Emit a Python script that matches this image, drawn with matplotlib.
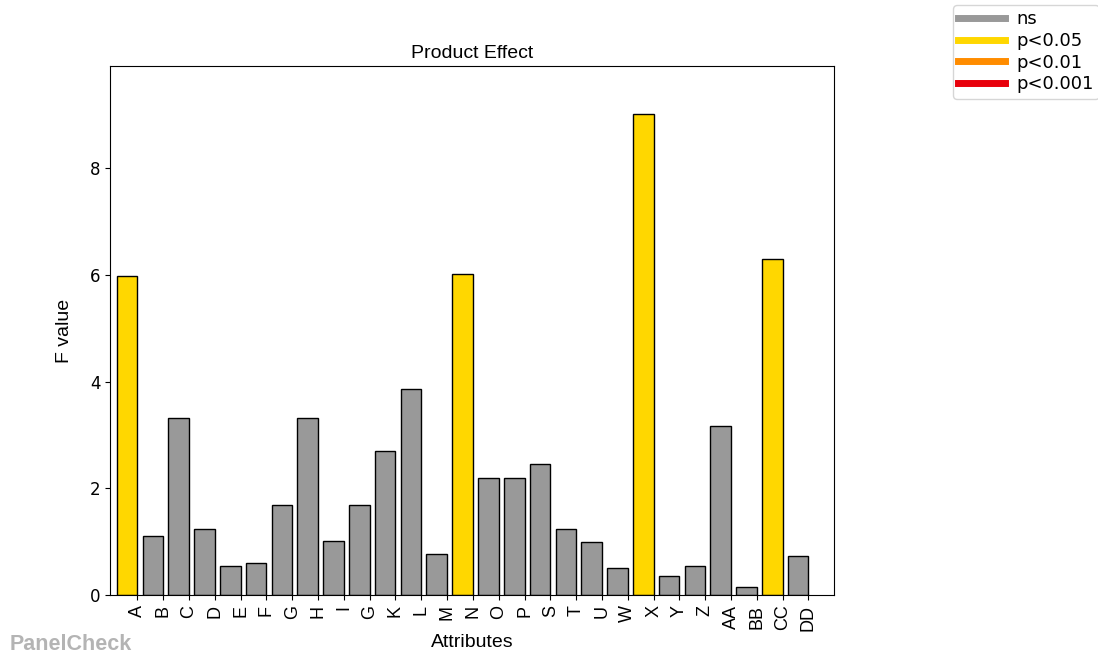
import numpy as np
import matplotlib
matplotlib.use("Agg")
import matplotlib.pyplot as plt
from matplotlib.lines import Line2D

# data
attributes = ["A", "B", "C", "D", "E", "F", "G", "H", "I", "G", "K", "L", "M", "N",
              "O", "P", "S", "T", "U", "W", "X", "Y", "Z", "AA", "BB", "CC", "DD"]
f_values = [5.97, 1.11, 3.32, 1.24, 0.54, 0.60, 1.69, 3.32, 1.02, 1.69, 2.70, 3.86,
            0.77, 6.01, 2.19, 2.19, 2.45, 1.24, 0.99, 0.51, 9.01, 0.36, 0.54, 3.17,
            0.15, 6.30, 0.73]
signif = ["p<0.05", "ns", "ns", "ns", "ns", "ns", "ns", "ns", "ns", "ns", "ns", "ns",
          "ns", "p<0.05", "ns", "ns", "ns", "ns", "ns", "ns", "p<0.05", "ns", "ns", "ns",
          "ns", "p<0.05", "ns"]
levels = ["ns", "p<0.05", "p<0.01", "p<0.001"]
level_colors = {"ns": "#999999", "p<0.05": "#FFD700", "p<0.01": "#FF8C00", "p<0.001": "#E8000B"}

narrow = ["Liberation Sans Narrow", "Liberation Sans", "DejaVu Sans"]
arial = ["Liberation Sans", "DejaVu Sans"]

fig = plt.figure(figsize=(10.98, 6.55), dpi=100)
ax = fig.add_axes([0.1002, 0.0916, 0.6594, 0.8076])

width = 0.8
ind = np.arange(len(attributes))
colors = [level_colors[s] for s in signif]
ax.bar(ind, f_values, width=width, align="edge", color=colors, edgecolor="black", linewidth=1)

ax.set_xticks(ind + width)
ax.set_xticklabels(attributes, rotation=90, family=narrow, fontsize=13)
ax.set_xlim(-0.26, len(attributes) - 1 + width + 0.99)
ax.set_ylim(0, max(f_values) * 1.1)
ax.set_yticks([0, 2, 4, 6, 8])
ax.tick_params(axis="y", labelsize=12)

ax.set_title("Product Effect", family=arial, fontsize=14)
ax.set_xlabel("Attributes", family=arial, fontsize=14, labelpad=2)
ax.set_ylabel("F value", family=narrow, fontsize=14, labelpad=12)

handles = [Line2D([0], [0], color=level_colors[l], linewidth=5) for l in levels]
fig.legend(handles, levels, loc="upper left", bbox_to_anchor=(953 / 1098, 1 - 5 / 655),
           fontsize=13, handlelength=2.6, handletextpad=0.6, labelspacing=0.2,
           borderaxespad=0, borderpad=0.3, frameon=True)

fig.text(10 / 1098, 0, "PanelCheck", fontsize=15.5, fontweight="bold",
         color="#b4b4b4", family=arial, ha="left", va="bottom")

fig.savefig("out.png", dpi=100)
